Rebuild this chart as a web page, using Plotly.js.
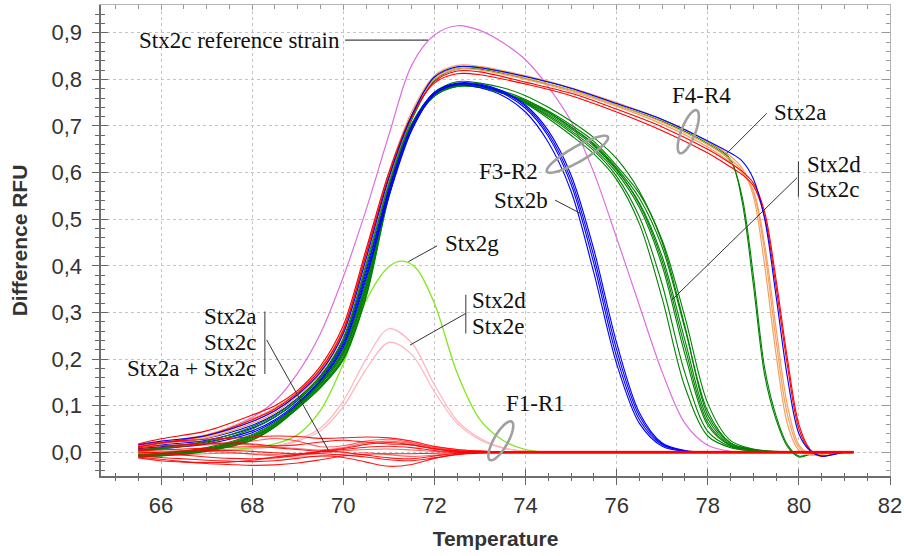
<!DOCTYPE html>
<html>
<head>
<meta charset="utf-8">
<script src="https://cdn.plot.ly/plotly-3.0.1.min.js"></script>
<style>html,body{margin:0;padding:0;background:#fff;}#chart{width:904px;height:556px;}</style>
</head>
<body>
<div id="chart"></div>
<script>
// ---------- DATA ----------
// Temperature grids
const tempF4 = [65.5, 66, 67, 68, 68.5, 69, 69.5, 70, 70.5, 71, 71.5, 72, 72.5, 73, 74, 75, 76, 77, 78, 78.5, 78.75, 79, 79.25, 79.5, 79.75, 80, 80.25, 80.5, 80.75, 81];
const tempF3 = [65.5, 66, 67, 68, 68.5, 69, 69.5, 70, 70.5, 71, 71.5, 72, 72.5, 73, 73.5, 74, 74.5, 75, 75.5, 76, 76.5, 77, 77.5, 78, 78.5, 79, 79.5, 80];
const tempB  = [65.5, 66, 67, 68, 68.5, 69, 69.5, 70, 70.5, 71, 71.5, 72, 72.5, 73, 73.5, 74, 74.5, 75, 75.5, 76, 76.5, 77, 77.5, 78, 78.5];
const tempRef = [65.5, 66, 67, 68, 68.5, 69, 69.5, 70, 70.5, 71, 71.5, 72, 72.5, 73, 73.5, 74, 74.5, 75, 75.5, 76, 76.5, 77, 77.5, 78, 78.5];
const tempG  = [65.5, 66.5, 67.5, 68, 68.5, 69, 69.5, 70, 70.5, 71, 71.3, 71.6, 72, 72.5, 73, 73.5, 74, 74.5];
const tempP  = [65.5, 66.5, 67.5, 68, 68.5, 69, 69.5, 70, 70.5, 71, 71.5, 72, 72.5, 73, 73.5, 74];
const tempN  = [65.5, 66, 66.5, 67, 67.5, 68, 68.5, 69, 69.5, 70, 70.5, 71, 71.5, 72, 72.5, 73, 73.5, 74, 75, 76, 77, 78, 79, 80, 81, 81.2];

// Stx2c reference strain (violet)
const refStrain = [0.012, 0.02, 0.036, 0.075, 0.11, 0.17, 0.255, 0.376, 0.52, 0.68, 0.83, 0.895, 0.915, 0.905, 0.879, 0.842, 0.784, 0.71, 0.6, 0.46, 0.315, 0.172, 0.062, 0.015, 0.002];

// F4-R4 group (Stx2a etc.)
const f4RedA   = [0.018, 0.029, 0.046, 0.08, 0.1, 0.133, 0.185, 0.272, 0.435, 0.6, 0.722, 0.792, 0.812, 0.81, 0.79, 0.765, 0.73, 0.69, 0.642, 0.612, 0.596, 0.572, 0.505, 0.355, 0.185, 0.05, 0.004, -0.009, -0.004, 0];
const f4RedB   = [0.012, 0.02, 0.036, 0.07, 0.093, 0.128, 0.178, 0.262, 0.425, 0.592, 0.718, 0.795, 0.818, 0.816, 0.794, 0.77, 0.736, 0.698, 0.65, 0.62, 0.603, 0.578, 0.515, 0.37, 0.2, 0.06, 0.006, -0.008, -0.004, 0];
const f4Orange1 = [0.014, 0.022, 0.038, 0.072, 0.095, 0.13, 0.18, 0.265, 0.43, 0.6, 0.73, 0.808, 0.83, 0.828, 0.808, 0.782, 0.75, 0.713, 0.667, 0.635, 0.61, 0.55, 0.4, 0.21, 0.06, 0.004, -0.006, -0.003, 0, 0];
const f4Orange2 = [0.012, 0.02, 0.034, 0.066, 0.089, 0.125, 0.174, 0.258, 0.42, 0.592, 0.724, 0.804, 0.826, 0.824, 0.803, 0.777, 0.745, 0.708, 0.66, 0.628, 0.605, 0.56, 0.43, 0.24, 0.08, 0.01, -0.005, -0.004, 0, 0];
const f4Orange3 = [0.01, 0.018, 0.031, 0.062, 0.085, 0.121, 0.169, 0.252, 0.412, 0.585, 0.72, 0.8, 0.822, 0.82, 0.8, 0.774, 0.742, 0.704, 0.655, 0.622, 0.6, 0.562, 0.445, 0.265, 0.1, 0.016, -0.004, -0.005, 0, 0];
const f4Blue    = [0.016, 0.024, 0.036, 0.066, 0.089, 0.124, 0.172, 0.255, 0.415, 0.588, 0.722, 0.805, 0.827, 0.825, 0.806, 0.781, 0.748, 0.714, 0.668, 0.642, 0.625, 0.587, 0.5, 0.335, 0.16, 0.04, 0.003, -0.008, -0.005, 0];
const f4GreenA  = [0.006, 0.01, 0.024, 0.055, 0.079, 0.115, 0.164, 0.245, 0.405, 0.58, 0.718, 0.803, 0.826, 0.826, 0.806, 0.781, 0.749, 0.714, 0.666, 0.628, 0.54, 0.36, 0.165, 0.07, 0.012, -0.01, -0.004, 0, 0, 0];
const f4GreenB  = [0.004, 0.008, 0.02, 0.05, 0.075, 0.111, 0.16, 0.24, 0.398, 0.574, 0.712, 0.798, 0.822, 0.822, 0.802, 0.777, 0.745, 0.71, 0.662, 0.625, 0.55, 0.38, 0.18, 0.078, 0.016, -0.008, -0.004, 0, 0, 0];

// F3-R2 group (Stx2d / Stx2c, green)
const f3G1 = [-0.004, -0.002, 0.01, 0.038, 0.064, 0.103, 0.152, 0.222, 0.365, 0.57, 0.705, 0.77, 0.79, 0.788, 0.772, 0.748, 0.716, 0.68, 0.64, 0.585, 0.49, 0.33, 0.14, 0.035, 0.01, 0.003, 0, 0];
const f3G2 = [-0.006, -0.004, 0.007, 0.034, 0.06, 0.1, 0.148, 0.215, 0.355, 0.562, 0.7, 0.768, 0.789, 0.786, 0.771, 0.75, 0.72, 0.686, 0.647, 0.592, 0.505, 0.36, 0.17, 0.045, 0.012, 0.003, 0, 0];
const f3G3 = [-0.007, -0.005, 0.005, 0.031, 0.058, 0.098, 0.145, 0.21, 0.348, 0.557, 0.698, 0.766, 0.787, 0.785, 0.771, 0.751, 0.723, 0.69, 0.652, 0.6, 0.525, 0.4, 0.21, 0.058, 0.014, 0.004, 0.001, 0];
const f3G4 = [-0.008, -0.006, 0.004, 0.029, 0.056, 0.096, 0.142, 0.205, 0.342, 0.553, 0.697, 0.765, 0.786, 0.784, 0.77, 0.752, 0.726, 0.694, 0.657, 0.605, 0.535, 0.42, 0.24, 0.072, 0.017, 0.005, 0.001, 0];
const f3G5 = [-0.009, -0.007, 0.003, 0.027, 0.055, 0.095, 0.14, 0.201, 0.336, 0.55, 0.696, 0.764, 0.785, 0.783, 0.77, 0.753, 0.729, 0.698, 0.662, 0.61, 0.545, 0.44, 0.265, 0.088, 0.02, 0.006, 0.001, 0];
const f3G6 = [-0.01, -0.008, 0.002, 0.026, 0.054, 0.094, 0.138, 0.198, 0.332, 0.547, 0.695, 0.764, 0.785, 0.783, 0.771, 0.755, 0.732, 0.702, 0.667, 0.615, 0.555, 0.455, 0.29, 0.105, 0.025, 0.007, 0.002, 0];
const f3G7 = [-0.005, -0.003, 0.008, 0.036, 0.062, 0.101, 0.15, 0.218, 0.36, 0.566, 0.703, 0.772, 0.795, 0.792, 0.782, 0.765, 0.74, 0.71, 0.675, 0.63, 0.56, 0.45, 0.27, 0.08, 0.02, 0.006, 0.001, 0];
const f3G8 = [-0.006, -0.004, 0.006, 0.033, 0.059, 0.099, 0.147, 0.213, 0.352, 0.56, 0.7, 0.767, 0.788, 0.787, 0.775, 0.757, 0.73, 0.697, 0.66, 0.607, 0.532, 0.41, 0.225, 0.064, 0.015, 0.004, 0.001, 0];

// Stx2b (blue)
const stx2bB1 = [0.015, 0.02, 0.03, 0.058, 0.081, 0.116, 0.164, 0.24, 0.392, 0.565, 0.7, 0.772, 0.79, 0.786, 0.77, 0.738, 0.678, 0.575, 0.405, 0.205, 0.07, 0.016, 0.003, 0, 0];
const stx2bB2 = [0.012, 0.016, 0.026, 0.052, 0.076, 0.112, 0.16, 0.235, 0.385, 0.56, 0.697, 0.772, 0.792, 0.79, 0.775, 0.745, 0.69, 0.595, 0.435, 0.235, 0.085, 0.02, 0.004, 0, 0];
const stx2bB3 = [0.008, 0.012, 0.022, 0.046, 0.07, 0.107, 0.156, 0.23, 0.378, 0.553, 0.692, 0.768, 0.788, 0.782, 0.765, 0.73, 0.665, 0.56, 0.385, 0.19, 0.062, 0.013, 0.002, 0, 0];
const stx2bB4 = [0.005, 0.008, 0.018, 0.042, 0.067, 0.104, 0.153, 0.226, 0.372, 0.548, 0.69, 0.768, 0.79, 0.788, 0.773, 0.742, 0.684, 0.585, 0.42, 0.22, 0.078, 0.018, 0.003, 0, 0];

// Stx2g (lime) and Stx2d / Stx2e (light pink) with F1-R1
const stx2g = [0.0, 0.002, 0.006, 0.01, 0.018, 0.038, 0.09, 0.19, 0.325, 0.398, 0.41, 0.395, 0.32, 0.17, 0.07, 0.026, 0.006, 0.0];
const stx2dF1 = [0.0, 0.002, 0.005, 0.008, 0.014, 0.027, 0.052, 0.11, 0.2, 0.265, 0.235, 0.145, 0.068, 0.03, 0.01, 0.002];
const stx2eF1 = [0.0, 0.002, 0.004, 0.007, 0.012, 0.024, 0.046, 0.098, 0.178, 0.236, 0.21, 0.13, 0.062, 0.027, 0.009, 0.002];

// F1-R1 flat red curves (Stx2a, Stx2c, Stx2a + Stx2c)
const flat1  = [0.012, 0.02, 0.025, 0.028, 0.03, 0.033, 0.035, 0.034, 0.03, 0.031, 0.033, 0.031, 0.024, 0.013, 0.006, 0.003, 0.001, 0, 0, 0, 0, 0, 0, 0, 0, 0];
const flat2  = [0.008, 0.011, 0.013, 0.016, 0.019, 0.024, 0.03, 0.024, 0.012, 0.014, 0.024, 0.028, 0.021, 0.01, 0.004, 0.002, 0.001, 0.001, 0.001, 0.001, 0.001, 0.001, 0.001, 0.001, 0.001, 0.001];
const flat3  = [0.003, 0.005, 0.007, 0.009, 0.011, 0.012, 0.01, 0.006, 0.003, 0.008, 0.017, 0.021, 0.016, 0.007, 0.002, 0.001, 0, 0, 0, 0, 0, 0, 0, 0, 0, 0];
const flat4  = [-0.002, 0.0, 0.002, 0.004, 0.004, 0.002, -0.001, -0.003, 0.001, 0.006, 0.011, 0.013, 0.01, 0.004, 0.001, 0, -0.001, -0.001, -0.001, -0.001, -0.001, -0.001, -0.001, -0.001, -0.001, -0.001];
const flat5  = [-0.005, -0.006, -0.005, -0.003, -0.002, -0.003, -0.005, -0.006, -0.002, 0.003, 0.006, 0.007, 0.005, 0.002, 0, 0, 0, 0, 0, 0, 0, 0, 0, 0, 0, 0];
const flat6  = [-0.007, -0.011, -0.014, -0.017, -0.019, -0.02, -0.018, -0.013, -0.008, -0.011, -0.021, -0.03, -0.026, -0.013, -0.004, -0.001, 0, 0, 0, 0, 0, 0, 0, 0, 0, 0];
const flat7  = [-0.01, -0.015, -0.02, -0.024, -0.026, -0.028, -0.027, -0.023, -0.016, -0.008, -0.004, -0.003, -0.003, -0.002, -0.001, 0, 0, 0, 0, 0, 0, 0, 0, 0, 0, 0];
const flat8  = [0.005, 0.006, 0.004, 0.002, 0.0, -0.004, -0.008, -0.01, -0.008, -0.004, -0.001, -0.005, -0.009, -0.006, -0.002, -0.001, 0, 0, 0, 0, 0, 0, 0, 0, 0, 0];
const flat9  = [0.001, -0.002, -0.006, -0.01, -0.013, -0.014, -0.012, -0.006, 0.002, 0.0, -0.006, -0.012, -0.014, -0.008, -0.002, 0, 0.001, 0.001, 0.001, 0.001, 0.001, 0.001, 0.001, 0.001, 0.001, 0.001];
const flat10 = [0.01, 0.014, 0.016, 0.018, 0.02, 0.018, 0.014, 0.016, 0.022, 0.026, 0.022, 0.018, 0.016, 0.008, 0.003, 0.001, 0, 0, 0, 0, 0, 0, 0, 0, 0, 0];
const flat11 = [0.016, 0.022, 0.024, 0.022, 0.019, 0.016, 0.012, 0.008, 0.005, 0.01, 0.02, 0.024, 0.019, 0.012, 0.006, 0.002, 0.001, 0.002, 0.002, 0.002, 0.002, 0.002, 0.002, 0.002, 0.002, 0.002];
const flat12 = [-0.012, -0.018, -0.021, -0.022, -0.021, -0.017, -0.01, -0.004, -0.003, -0.006, -0.01, -0.016, -0.018, -0.012, -0.005, -0.002, -0.002, -0.002, -0.002, -0.002, -0.002, -0.002, -0.002, -0.002, -0.002, -0.002];

// Axis tick values
const xTickStart = 66, xTickStep = 2, xMinorStep = 0.5;
const yTickStep = 0.1, yMinorStep = 0.02;

// ---------- LAYOUT / STYLE ----------
const W = 904, H = 556, ML = 101, MR = 14, MT = 5, MB = 80;
const xRange = [64.683, 82], yRange = [-0.0508, 0.9595];
const pxX = (W - ML - MR) / (xRange[1] - xRange[0]);
const pxY = (H - MT - MB) / (yRange[1] - yRange[0]);

const C = {
  red: '#ff0000', blue: '#0000ff', green: '#008000', orange: '#f5a060',
  violet: '#dd6ee0', lime: '#80e81c', pink: '#ffb4bc'
};

const traces = [];
function add(x, y, color, width, opacity) {
  traces.push({x: x, y: y, type: 'scatter', mode: 'lines',
    line: {color: color, width: width || 1.1, shape: 'spline', smoothing: 0.9},
    opacity: opacity == null ? 1 : opacity, hoverinfo: 'skip', showlegend: false});
}

add(tempP, stx2eF1, C.pink, 1.2);
add(tempP, stx2dF1, C.pink, 1.2);
add(tempG, stx2g, C.lime, 1.3);
add(tempRef, refStrain, C.violet, 1.2);
[f3G1, f3G2, f3G3, f3G4, f3G5, f3G6, f3G7, f3G8].forEach(v => add(tempF3, v, C.green, 1.1));
[stx2bB1, stx2bB2, stx2bB3, stx2bB4].forEach(v => add(tempB, v, C.blue, 1.1));
[f4GreenA, f4GreenB].forEach(v => add(tempF4, v, C.green, 1.1));
[f4Orange1, f4Orange2, f4Orange3].forEach(v => add(tempF4, v, C.orange, 1.2));
add(tempF4, f4RedB, C.red, 1.1);
add(tempF4, f4RedA, C.red, 1.1);
add(tempF4, f4Blue, C.blue, 1.1);
[flat1, flat2, flat3, flat4, flat5, flat6, flat7, flat8, flat9, flat10, flat11, flat12].forEach((v, i) =>
  add(tempN, v, C.red, 1.1, i % 3 === 1 ? 0.6 : 0.9));

// ---------- annotations ----------
const serif = {family: 'Liberation Serif, Times New Roman, serif', size: 23, color: '#111'};
function label(text, x, y, xanchor) {
  return {text: text, x: x, y: y, xref: 'x', yref: 'y', showarrow: false,
    xanchor: xanchor || 'center', yanchor: 'middle', font: serif};
}
const annotations = [
  label('Stx2c reference strain', 69.98, 0.884, 'right'),
  label('Stx2g', 72.19, 0.447, 'left'),
  label('Stx2d', 72.78, 0.325, 'left'),
  label('Stx2e', 72.78, 0.269, 'left'),
  label('Stx2a', 68.135, 0.291, 'right'),
  label('Stx2c', 68.135, 0.236, 'right'),
  label('Stx2a + Stx2c', 68.135, 0.180, 'right'),
  label('F4-R4', 77.867, 0.766),
  label('Stx2a', 79.404, 0.728, 'left'),
  label('Stx2d', 80.135, 0.617, 'left'),
  label('Stx2c', 80.135, 0.563, 'left'),
  label('F3-R2', 73.616, 0.602),
  label('Stx2b', 73.90, 0.541),
  label('F1-R1', 74.23, 0.105)
];

function seg(x0, y0, x1, y1, color, width) {
  return {type: 'line', xref: 'x', yref: 'y', x0: x0, y0: y0, x1: x1, y1: y1,
    line: {color: color || '#333', width: width || 1}};
}
function ellipse(cx, cy, a, b, angDeg) {
  const th = angDeg * Math.PI / 180;
  let p = '';
  for (let k = 0; k <= 60; k++) {
    const t = 2 * Math.PI * k / 60;
    const dx = a * Math.cos(t) * Math.cos(th) - b * Math.sin(t) * Math.sin(th);
    const dy = a * Math.cos(t) * Math.sin(th) + b * Math.sin(t) * Math.cos(th);
    p += (k === 0 ? 'M' : 'L') + (cx + dx / pxX).toFixed(4) + ',' + (cy - dy / pxY).toFixed(4);
  }
  return {type: 'path', xref: 'x', yref: 'y', path: p + 'Z', line: {color: '#a0a0a0', width: 2.6}};
}
const shapes = [
  seg(70.04, 0.884, 71.86, 0.884, '#444', 1.2),
  seg(72.06, 0.443, 71.43, 0.409),
  seg(72.69, 0.338, 72.69, 0.255),
  seg(72.69, 0.298, 71.465, 0.230),
  seg(68.28, 0.302, 68.28, 0.168),
  seg(68.32, 0.241, 69.672, 0.005),
  seg(79.294, 0.727, 78.416, 0.641),
  seg(79.99, 0.624, 79.99, 0.548),
  seg(79.96, 0.589, 77.215, 0.327),
  seg(74.648, 0.541, 75.196, 0.513),
  ellipse(77.573, 0.6877, 23, 7, -68.8),
  ellipse(75.14, 0.6394, 35, 7.5, -29.6),
  ellipse(73.458, 0.0247, 22, 7, -60.5)
];

const sans = 'Liberation Sans, Arial, sans-serif';
const layout = {
  width: W, height: H,
  margin: {l: ML, r: MR, t: MT, b: MB},
  paper_bgcolor: '#fff', plot_bgcolor: '#fff',
  separators: ', ',
  showlegend: false,
  xaxis: {
    range: xRange, tickmode: 'linear', tick0: xTickStart, dtick: xTickStep,
    ticks: 'outside', ticklen: 7, tickwidth: 1, tickcolor: '#666', ticklabelstandoff: 2,
    showline: true, linecolor: '#6e6e6e', linewidth: 1.6,
    showgrid: true, gridcolor: '#c4c4c4', griddash: 'dot', gridwidth: 1,
    zeroline: false, tickfont: {family: sans, size: 22, color: '#333'},
    minor: {dtick: xMinorStep, tick0: 65, ticks: 'outside', ticklen: 3, tickcolor: '#666', showgrid: false},
    title: {text: 'Temperature', font: {family: sans, size: 21, color: '#333', weight: 'bold'}, standoff: 14}
  },
  yaxis: {
    range: yRange, tickmode: 'linear', tick0: 0, dtick: yTickStep, tickformat: '.1f',
    ticks: 'outside', ticklen: 7, tickwidth: 1, tickcolor: '#666', ticklabelstandoff: 6,
    showline: true, linecolor: '#6e6e6e', linewidth: 1.6,
    showgrid: true, gridcolor: '#c4c4c4', griddash: 'dot', gridwidth: 1,
    zeroline: false, tickfont: {family: sans, size: 22, color: '#333'},
    minor: {dtick: yMinorStep, tick0: 0, ticks: 'outside', ticklen: 4, tickcolor: '#666', showgrid: false},
    title: {text: 'Difference RFU', font: {family: sans, size: 21, color: '#333', weight: 'bold'}, standoff: 18}
  },
  // inner halves of the crossing ticks (bottom / left)
  xaxis3: {
    overlaying: 'x', anchor: 'y', side: 'bottom', range: xRange,
    tickmode: 'linear', tick0: xTickStart, dtick: xTickStep, ticks: 'inside', ticklen: 7, tickcolor: '#666',
    minor: {dtick: xMinorStep, tick0: 65, ticks: 'inside', ticklen: 3, tickcolor: '#666', showgrid: false},
    showticklabels: false, showgrid: false, showline: false, zeroline: false
  },
  yaxis3: {
    overlaying: 'y', anchor: 'x', side: 'left', range: yRange,
    tickmode: 'linear', tick0: 0, dtick: yTickStep, ticks: 'inside', ticklen: 7, tickcolor: '#666',
    minor: {dtick: yMinorStep, tick0: 0, ticks: 'inside', ticklen: 4, tickcolor: '#666', showgrid: false},
    showticklabels: false, showgrid: false, showline: false, zeroline: false
  },
  // top and right frame with inward ticks
  xaxis2: {
    overlaying: 'x', anchor: 'y', side: 'top', range: xRange,
    tickmode: 'linear', tick0: xTickStart, dtick: xTickStep, ticks: 'inside', ticklen: 5, tickcolor: '#999',
    minor: {dtick: xMinorStep, tick0: 65, ticks: 'inside', ticklen: 4, tickcolor: '#999', showgrid: false},
    showticklabels: false, showgrid: false, showline: true, linecolor: '#b4b4b4', linewidth: 1.4, zeroline: false
  },
  yaxis2: {
    overlaying: 'y', anchor: 'x', side: 'right', range: yRange,
    tickmode: 'linear', tick0: 0, dtick: yTickStep, ticks: 'inside', ticklen: 8, tickcolor: '#999',
    minor: {dtick: yMinorStep, tick0: 0, ticks: 'inside', ticklen: 4, tickcolor: '#999', showgrid: false},
    showticklabels: false, showgrid: false, showline: true, linecolor: '#b4b4b4', linewidth: 1.4, zeroline: false
  },
  annotations: annotations,
  shapes: shapes
};

// empty helper traces so the frame axes get their own subplots
traces.push({x: [], y: [], xaxis: 'x2', yaxis: 'y2', type: 'scatter', mode: 'lines', showlegend: false, hoverinfo: 'skip'});
traces.push({x: [], y: [], xaxis: 'x3', yaxis: 'y3', type: 'scatter', mode: 'lines', showlegend: false, hoverinfo: 'skip'});

Plotly.newPlot('chart', traces, layout, {staticPlot: true, displayModeBar: false});
</script>
</body>
</html>
